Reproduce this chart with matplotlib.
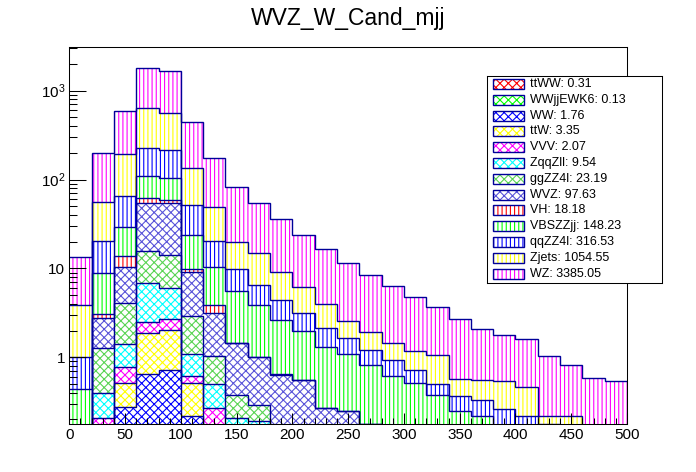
import numpy as np
import matplotlib
matplotlib.use('Agg')
import matplotlib.pyplot as plt
from matplotlib.patches import Rectangle
from matplotlib.ticker import FixedLocator, FixedFormatter, MultipleLocator, LogLocator, NullFormatter

plt.rcParams['font.family'] = ['Liberation Sans', 'DejaVu Sans']
plt.rcParams['mathtext.fontset'] = 'custom'
plt.rcParams['mathtext.rm'] = 'Liberation Sans'
plt.rcParams['hatch.linewidth'] = 0.8

# mjj bins, 20 GeV wide
edges = np.arange(0, 520, 20)

# per-process bin contents, stacked bottom -> top
ttWW    = [0, 0, 0.01, 0.01, 0.01, 0, 0, 0, 0, 0, 0, 0, 0, 0, 0, 0, 0, 0, 0, 0, 0, 0, 0, 0, 0]
WWjjEWK6 = [0, 0, 0.01, 0.01, 0.01, 0.01, 0, 0, 0, 0, 0, 0, 0, 0, 0, 0, 0, 0, 0, 0, 0, 0, 0, 0, 0]
WW      = [0, 0.02, 0.26, 0.63, 0.70, 0.21, 0.03, 0.01, 0, 0, 0, 0, 0, 0, 0, 0, 0, 0, 0, 0, 0, 0, 0, 0, 0]
ttW     = [0, 0.04, 0.23, 1.21, 1.31, 0.29, 0.07, 0.02, 0.02, 0.01, 0, 0, 0, 0, 0, 0, 0, 0, 0, 0, 0, 0, 0, 0, 0]
VVV     = [0, 0.15, 0.26, 0.65, 0.65, 0.11, 0.17, 0.05, 0.03, 0.02, 0.01, 0, 0, 0, 0, 0, 0, 0, 0, 0, 0, 0, 0, 0, 0]
ZqqZll  = [0, 0.19, 0.63, 4.29, 3.29, 0.46, 0.23, 0.13, 0.14, 0.04, 0.03, 0.02, 0.01, 0.01, 0, 0, 0, 0, 0, 0, 0, 0, 0, 0, 0]
ggZZ4l  = [0, 0.86, 2.65, 8.9, 8.23, 1.83, 0.53, 0.17, 0.10, 0.05, 0.05, 0.03, 0.03, 0.02, 0.02, 0.01, 0.01, 0, 0, 0, 0, 0, 0, 0, 0]
WVZ     = [0, 1.49, 6.25, 38.3, 39.8, 6.15, 2.09, 1.06, 0.71, 0.52, 0.47, 0.22, 0.21, 0.15, 0.10, 0.09, 0.07, 0.05, 0.04, 0.02, 0.02, 0.01, 0, 0, 0]
VH      = [0, 0.30, 3.5, 7.9, 4.8, 0.71, 0.73, 0.02, 0.02, 0.01, 0, 0, 0, 0, 0, 0, 0, 0, 0, 0, 0, 0, 0, 0, 0]
VBSZZjj = [0.44, 5.75, 15.4, 47.1, 44.2, 14.03, 6.45, 4.11, 2.86, 1.98, 1.43, 1.03, 0.83, 0.65, 0.50, 0.42, 0.30, 0.20, 0.18, 0.13, 0.08, 0.07, 0.04, 0.02, 0.01]
qqZZ4l  = [0.56, 11.4, 36.0, 115, 112, 27.7, 9.9, 4.2, 2.62, 1.78, 1.14, 0.82, 0.56, 0.37, 0.31, 0.20, 0.12, 0.12, 0.11, 0.11, 0.12, 0.10, 0.06, 0.03, 0.03]
Zjets   = [2.85, 35.2, 126.8, 408, 341, 82.5, 28.5, 9.83, 8.3, 4.63, 3.0, 1.83, 0.94, 0.71, 0.51, 0.46, 0.56, 0.20, 0.23, 0.28, 0.25, 0.04, 0.12, 0.05, 0.06]
WZ      = [9.45, 141.6, 402, 1150, 1105, 313, 127.3, 62.1, 39.2, 26.66, 17.47, 12.45, 8.82, 6.45, 4.85, 3.55, 2.65, 2.11, 1.50, 1.23, 1.12, 0.81, 0.61, 0.49, 0.44]

names = ['ttWW', 'WWjjEWK6', 'WW', 'ttW', 'VVV', 'ZqqZll', 'ggZZ4l', 'WVZ',
         'VH', 'VBSZZjj', 'qqZZ4l', 'Zjets', 'WZ']
series = [ttWW, WWjjEWK6, WW, ttW, VVV, ZqqZll, ggZZ4l, WVZ, VH, VBSZZjj, qqZZ4l, Zjets, WZ]
totals = [0.31, 0.13, 1.76, 3.35, 2.07, 9.54, 23.19, 97.63, 18.18, 148.23, 316.53, 1054.55, 3385.05]

colors = ['#ff0000', '#00ff00', '#0000ff', '#ffff00', '#ff00ff', '#00ffff', '#59d454', '#5954d9',
          '#ff0000', '#00ff00', '#0000ff', '#ffff00', '#ff00ff']
hatches = ['xxxx'] * 8 + ['||||'] * 5
line_col = '#000099'

ytick_vals = [1, 10, 100, 1000]
ytick_labels = ['1', '10', r'$\mathregular{10^{2}}$', r'$\mathregular{10^{3}}$']

fig = plt.figure(figsize=(6.96, 4.72), dpi=100)
ax = fig.add_axes([0.0996, 0.1017, 0.8013, 0.7981])

floor = 0.01
cum = np.zeros(len(edges) - 1)
tops = []
for vals, c, h in zip(series, colors, hatches):
    bottom = cum.copy()
    cum = cum + np.array(vals)
    ax.stairs(np.maximum(cum, floor), edges, baseline=np.maximum(bottom, floor), fill=True,
              facecolor='white', edgecolor=c, hatch=h, linewidth=0)
    tops.append(cum.copy())
for t in tops:
    ax.stairs(np.maximum(t, floor), edges, baseline=None, color=line_col, linewidth=1.0)

ax.set_yscale('log')
ax.set_xlim(0, 500)
ax.set_ylim(0.178, 3070)

ax.yaxis.set_major_locator(FixedLocator(ytick_vals))
ax.yaxis.set_major_formatter(FixedFormatter(ytick_labels))
ax.yaxis.set_minor_locator(LogLocator(base=10, subs=np.arange(2, 10), numticks=20))
ax.yaxis.set_minor_formatter(NullFormatter())
ax.xaxis.set_major_locator(MultipleLocator(50))
ax.xaxis.set_minor_locator(MultipleLocator(10))

ax.tick_params(which='both', direction='in', top=False, right=False, width=0.75, labelsize=11, pad=3)
ax.tick_params(axis='y', which='major', length=12.5)
ax.tick_params(axis='y', which='minor', length=6)
ax.tick_params(axis='x', which='major', length=8)
ax.tick_params(axis='x', which='minor', length=4)
for s in ax.spines.values():
    s.set_linewidth(0.75)

fig.text(0.5, 1 - 25 / 472, 'WVZ_W_Cand_mjj', ha='center', va='baseline', fontsize=16.5)

# legend box, drawn in its own pixel-like coordinates
lw_px, lh_px = 174.4, 207.3
lax = fig.add_axes([487.3 / 696, 1 - 283.3 / 472, lw_px / 696, lh_px / 472])
lax.set_xlim(0, lw_px)
lax.set_ylim(lh_px, 0)
lax.set_xticks([])
lax.set_yticks([])
for s in lax.spines.values():
    s.set_linewidth(0.75)
for i, (n, tot, c, h) in enumerate(zip(names, totals, colors, hatches)):
    yc = 8 + 15.8 * i
    lax.add_patch(Rectangle((6, yc - 5), 31, 10, facecolor='white', edgecolor=c, hatch=h, linewidth=0))
    lax.add_patch(Rectangle((6, yc - 5), 31, 10, fill=False, edgecolor=line_col, linewidth=1.0))
    lax.text(43, yc, '{}: {:.2f}'.format(n, tot), va='center', ha='left', fontsize=9)

fig.savefig('out.png', dpi=100)
